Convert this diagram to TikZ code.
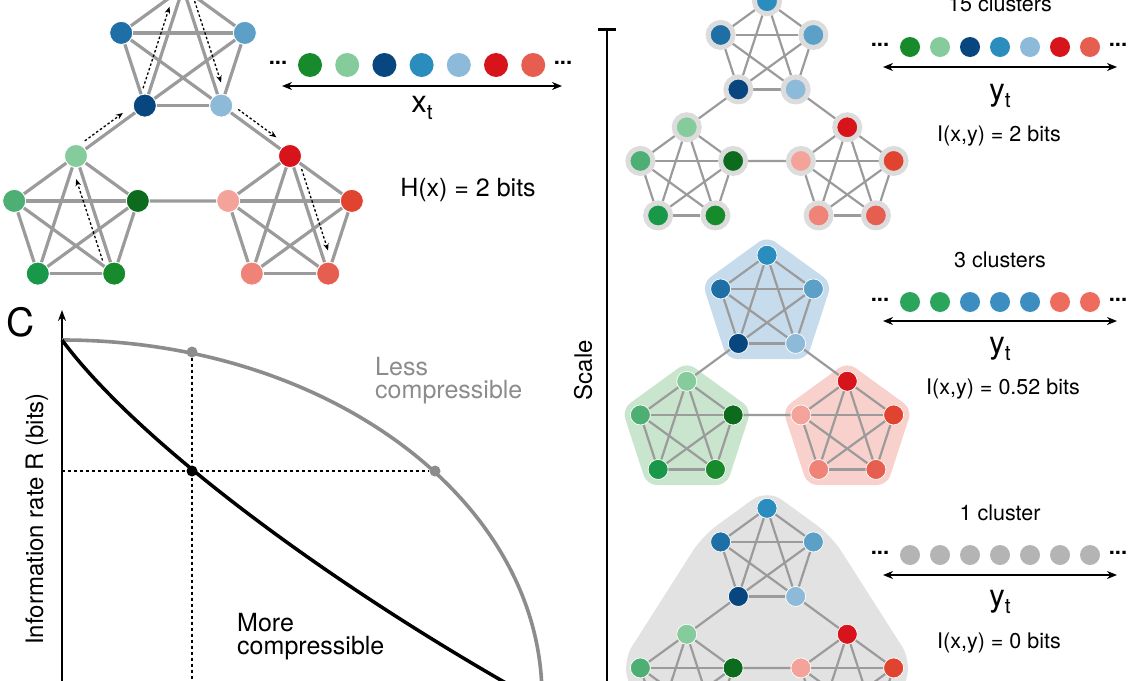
\documentclass[tikz,border=0pt]{standalone}
\usepackage{fontspec}
\setmainfont{TeX Gyre Heros}
\usetikzlibrary{calc,arrows.meta,backgrounds}

\definecolor{colb1}{HTML}{2B8CBE}
\definecolor{colb2}{HTML}{1D6FA5}
\definecolor{colb3}{HTML}{08467F}
\definecolor{colb4}{HTML}{8DBAD8}
\definecolor{colb5}{HTML}{5CA0C8}
\definecolor{colg1}{HTML}{86CB9C}
\definecolor{colg2}{HTML}{4DAF73}
\definecolor{colg3}{HTML}{189848}
\definecolor{colg4}{HTML}{178A2C}
\definecolor{colg5}{HTML}{0C6B1C}
\definecolor{colr1}{HTML}{D7141B}
\definecolor{colr2}{HTML}{F4A39B}
\definecolor{colr3}{HTML}{EF8377}
\definecolor{colr4}{HTML}{E65E50}
\definecolor{colr5}{HTML}{E0432F}
\definecolor{edgegrey}{HTML}{9B9B9B}
\definecolor{halogrey}{HTML}{DCDCDC}
\definecolor{bgblue}{HTML}{C6DBEC}
\definecolor{bggreen}{HTML}{C9E5CE}
\definecolor{bgred}{HTML}{F8D0CC}
\definecolor{bggrey}{HTML}{E2E2E2}
\definecolor{curvegrey}{HTML}{8C8C8C}
\definecolor{clgreen}{HTML}{2CA55C}
\definecolor{clblue}{HTML}{3C8EC0}
\definecolor{clred}{HTML}{EE6C5E}
\definecolor{clgrey}{HTML}{B4B4B4}

% three 5-cliques: #1 prefix, #2 centre of blue clique, #3 scale, #4 node style, #5 edge style
\newcommand{\cliquenet}[5]{%
  \foreach \cl/\dx/\dy in {b/0/0,g/-107/-168,r/107/-168} {
    \foreach \nd/\ang in {1/90,2/162,3/234,4/306,5/18} {
      \node[#4,fill=col\cl\nd] (#1\cl\nd) at ($#2+#3*(\dx,\dy)+#3*(\ang:65)$) {};
    }
  }
  \begin{scope}[on background layer]
    \foreach \cl in {b,g,r} {
      \foreach \i/\j in {1/2,1/3,1/4,1/5,2/3,2/4,2/5,3/4,3/5,4/5}
        \draw[#5] (#1\cl\i) -- (#1\cl\j);
    }
    \draw[#5] (#1b3) -- (#1g1) (#1b4) -- (#1r1) (#1g5) -- (#1r2);
  \end{scope}
}

\begin{document}
\begin{tikzpicture}[x=1pt,y=1pt,
  bigdot/.style={circle,inner sep=0pt,minimum size=23pt,draw=white,line width=0.8pt},
  smalldot/.style={circle,inner sep=0pt,minimum size=20pt,draw=white,line width=0.7pt},
  halodot/.style={circle,inner sep=0pt,minimum size=25pt,draw=halogrey,line width=5pt},
  thickedge/.style={edgegrey,line width=3.2pt},
  thinedge/.style={edgegrey,line width=2.2pt},
  walk/.style={black,line width=1.3pt,dash pattern=on 2.5pt off 2.2pt,
    -{Stealth[length=7pt,width=5.5pt]},shorten <=16pt,shorten >=22pt},
  seqdot/.style={circle,inner sep=0pt,minimum size=24pt},
  rowdot/.style={circle,inner sep=0pt,minimum size=20pt},
  seqarrow/.style={{Stealth[length=10pt,width=8pt]}-{Stealth[length=10pt,width=8pt]},line width=1.8pt},
  ptdot/.style={circle,inner sep=0pt,minimum size=11pt},
  guide/.style={black,line width=1.6pt,dash pattern=on 3pt off 3pt},
  lbl/.style={font=\fontsize{21.5}{25}\selectfont},
  bigl/.style={font=\fontsize{25}{23}\selectfont},
  dotsl/.style={font=\fontsize{22}{22}\selectfont\bfseries}]
\useasboundingbox (0,0) rectangle (1142,-680);

% top left: walk on the network
\cliquenet{top}{(183,-53)}{1}{bigdot}{thickedge}
\foreach \a/\b in {g4/g1,g1/b3,b3/b1,b1/b4,b4/r1,r1/r4}
  \draw[walk] ($(top\a)!7pt!90:(top\b)$) -- ($(top\b)!7pt!-90:(top\a)$);

\node[dotsl] (xdl) at (278,-63) {...};
\foreach \i/\cl in {0/g4,1/g1,2/b3,3/b1,4/b4,5/r1,6/r4}
  \node[seqdot,fill=col\cl] (x\i) at (310+37.2*\i,-65) {};
\node[dotsl] (xdr) at (563,-63) {...};
\coordinate (xal) at (282,-86);
\coordinate (xar) at (562,-86);
\draw[seqarrow] (xal) -- (xar);
\node[anchor=base] (xt) at (422,-112) {\fontsize{31}{31}\selectfont x\raisebox{-7pt}{\fontsize{21}{21}\selectfont t}};
\node[bigl] (hx) at (468,-190) {H(x) = 2 bits};

% panel C
\node[font=\fontsize{39}{39}\selectfont] (clabel) at (21,-322) {C};
\coordinate (origin) at (62,-700);
\coordinate (ytop) at (62,-310);
\draw[line width=2pt,-{Stealth[length=11pt,width=8pt]}] (origin) -- (ytop);
\node[rotate=90,font=\fontsize{24}{24}\selectfont] (ylabel) at (37,-519) {Information rate R (bits)};
\draw[curvegrey,line width=3.6pt] (62,-340) arc[start angle=90,end angle=0,x radius=480,y radius=357];
\draw[black,line width=3.5pt] (62,-340) .. controls (140,-445) and (340,-592) .. (545,-705);
\node[ptdot,fill=curvegrey] (pa) at (192,-352) {};
\node[ptdot,fill=black] (pb) at (192,-471) {};
\node[ptdot,fill=curvegrey] (pc) at (435,-471) {};
\coordinate (pax) at (192,-700);
\coordinate (pby) at (62,-471);
\begin{scope}[on background layer]
  \draw[guide] (pa) -- (pax);
  \draw[guide] (pby) -- (pc);
\end{scope}
\node[bigl,text=curvegrey,align=left,anchor=north west,inner sep=0pt] (less) at (375,-357) {Less\\compressible};
\node[bigl,align=left,anchor=north west,inner sep=0pt] (more) at (237,-613) {More\\compressible};

% scale bar
\node[rotate=90,font=\fontsize{24}{24}\selectfont] (scale) at (583,-370) {Scale};
\coordinate (scalebot) at (607,-700);
\coordinate (scaletop) at (607,-28);
\draw[line width=2.5pt,-{Bar[width=18pt]}] (scalebot) -- (scaletop);

% 15 clusters
\cliquenet{fine}{(767,-50)}{0.75}{halodot}{thinedge}
\node[lbl,anchor=base] (nfine) at (1000,-12) {15 clusters};
\node[dotsl] (fdl) at (880,-45) {...};
\foreach \i/\cl in {0/g4,1/g1,2/b3,3/b1,4/b4,5/r1,6/r4}
  \node[rowdot,fill=col\cl] (yf\i) at (910+30*\i,-47) {};
\node[dotsl] (fdr) at (1118,-45) {...};
\coordinate (fal) at (883,-67);
\coordinate (far) at (1117,-67);
\draw[seqarrow] (fal) -- (far);
\node[anchor=base] (yft) at (1000,-100) {\fontsize{31}{31}\selectfont y\raisebox{-7pt}{\fontsize{21}{21}\selectfont t}};
\node[lbl,anchor=base] (ifine) at (999,-141) {I(x,y) = 2 bits};

% 3 clusters
\begin{scope}[on background layer]
  \foreach \cx/\cy/\col in {767/-304/bgblue,686.75/-430/bggreen,847.25/-430/bgred}
    \fill[\col,rounded corners=10pt,shift={(\cx,\cy)}]
      (90:68) -- (162:68) -- (234:68) -- (306:68) -- (18:68) -- cycle;
\end{scope}
\cliquenet{mid}{(767,-304)}{0.75}{smalldot}{thinedge}
\node[lbl,anchor=base] (nmid) at (1000,-267) {3 clusters};
\node[dotsl] (mdl) at (880,-300) {...};
\foreach \i/\cl in {0/clgreen,1/clgreen,2/clblue,3/clblue,4/clblue,5/clred,6/clred}
  \node[rowdot,fill=\cl] (ym\i) at (910+30*\i,-302) {};
\node[dotsl] (mdr) at (1118,-300) {...};
\coordinate (mal) at (883,-321);
\coordinate (mar) at (1117,-321);
\draw[seqarrow] (mal) -- (mar);
\node[anchor=base] (ymt) at (1000,-353) {\fontsize{31}{31}\selectfont y\raisebox{-7pt}{\fontsize{21}{21}\selectfont t}};
\node[lbl,anchor=base] (imid) at (1003,-394) {I(x,y) = 0.52 bits};

% 1 cluster
\begin{scope}[on background layer]
  \fill[bggrey,rounded corners=18pt]
    ($(767,-557)+(90:68)$) -- ($(767,-557)+(162:68)$) -- ($(686.75,-683)+(162:68)$) --
    ($(686.75,-683)+(234:68)$) -- ($(847.25,-683)+(306:68)$) -- ($(847.25,-683)+(18:68)$) --
    ($(767,-557)+(18:68)$) -- cycle;
\end{scope}
\cliquenet{one}{(767,-557)}{0.75}{smalldot}{thinedge}
\node[lbl,anchor=base] (none) at (1000,-520) {1 cluster};
\node[dotsl] (odl) at (880,-553) {...};
\foreach \i in {0,...,6}
  \node[rowdot,fill=clgrey] (yo\i) at (910+30*\i,-555) {};
\node[dotsl] (odr) at (1118,-553) {...};
\coordinate (oal) at (883,-575);
\coordinate (oar) at (1117,-575);
\draw[seqarrow] (oal) -- (oar);
\node[anchor=base] (yot) at (1000,-606) {\fontsize{31}{31}\selectfont y\raisebox{-7pt}{\fontsize{21}{21}\selectfont t}};
\node[lbl,anchor=base] (ione) at (999,-648) {I(x,y) = 0 bits};
\end{tikzpicture}
\end{document}
